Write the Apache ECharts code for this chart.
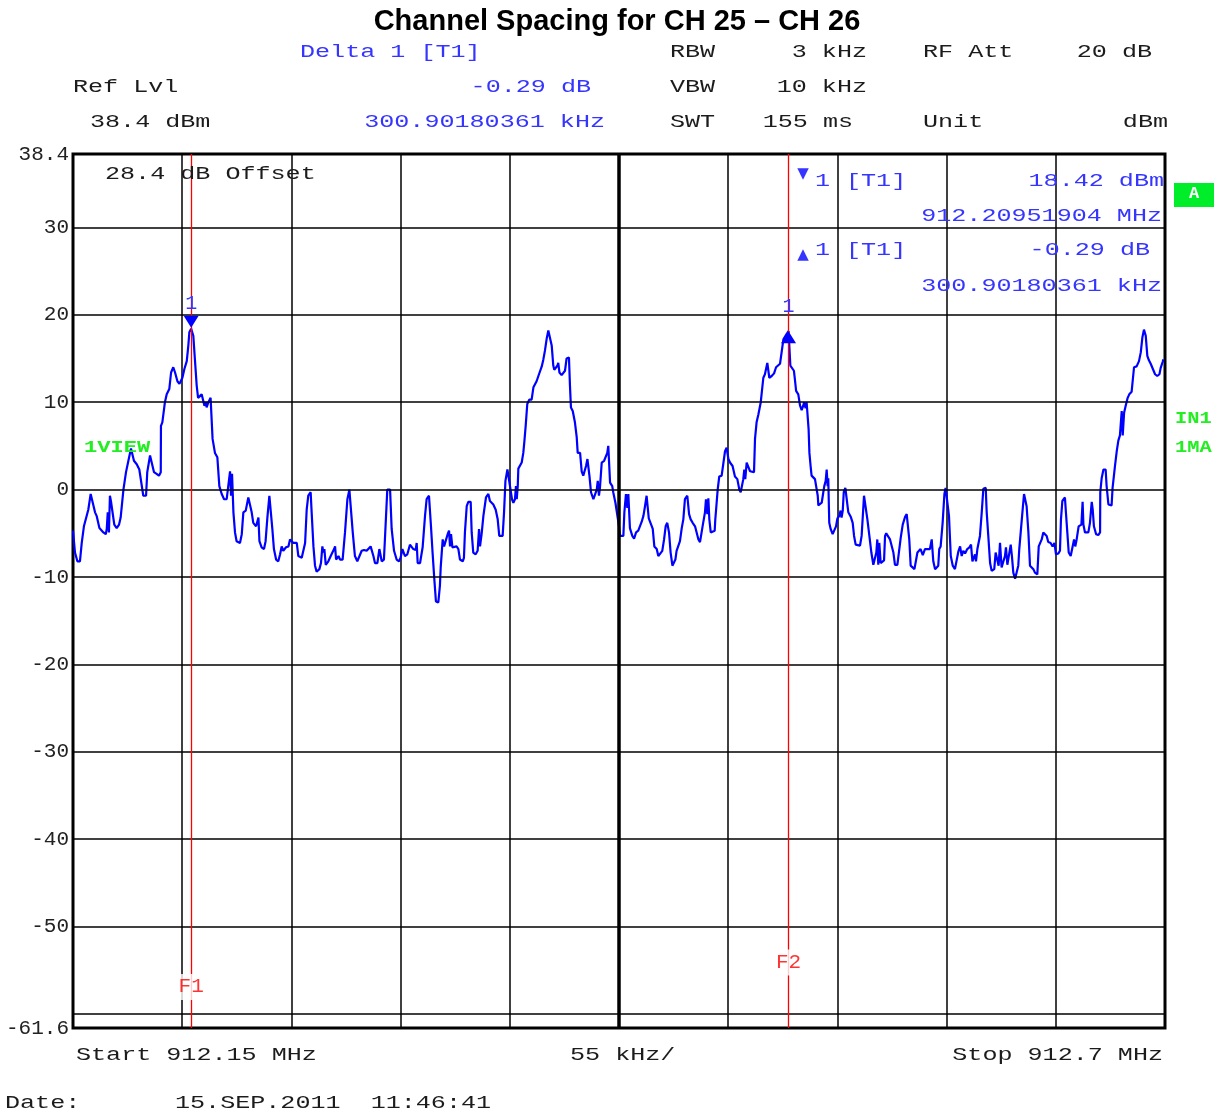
<!DOCTYPE html>
<html>
<head>
<meta charset="utf-8">
<script src="https://cdn.jsdelivr.net/npm/echarts@6/dist/echarts.min.js"></script>
<style>html,body{margin:0;padding:0;background:#fff}#c{width:1224px;height:1113px}</style>
</head>
<body>
<div id="c"></div>
<script>
// ---- data (x: kHz offset from start 912.15 MHz, y: dBm) ----
const startMHz = 912.15;
const stopMHz = 912.7;
const spanKHz = 550;
const divKHz = 55;
const yMax = 38.4;
const yMin = -61.6;
const yTickLabels = [38.4, 30, 20, 10, 0, -10, -20, -30, -40, -50, -61.6];
const gridLevels = [30, 20, 10, 0, -10, -20, -30, -40, -50, -60];
const marker1 = [59.5, 18.42];     // 912.20951904 MHz, 18.42 dBm
const delta1 = [360.4, 18.13];     // +300.90180361 kHz, -0.29 dB
const fLineKHz = [59.5, 360.4];
const fLineNames = ['F1', 'F2'];
const fLabelLevels = [-56.9, -54.1];

const trace = [
[0,-4.7],[1.0,-7.2],[2.2,-8.2],[3.5,-8.2],[4.4,-6.1],[4.9,-5.9],[5.5,-4.2],[6.5,-4.0],[7.7,-2.3],[8.9,-0.5],
[9.7,-0.5],[11.1,-2.6],[11.9,-3.0],[13.3,-4.4],[15.3,-4.9],[16.5,-5.1],[17.0,-4.5],[17.5,-2.6],[18.1,-4.9],[18.6,-0.7],
[19.1,-1.3],[19.8,-1.1],[20.8,-4.0],[22.0,-4.4],[23.2,-4.0],[24.0,-3.2],[25.4,0.0],[26.7,2.0],[27.9,3.3],[29.2,4.7],
[29.9,4.6],[30.7,3.3],[32.1,2.9],[33.4,2.3],[34.3,2.1],[35.4,-0.7],[36.3,-0.9],[36.8,-0.7],[37.4,2.0],[37.9,2.0],
[38.8,3.9],[39.6,3.7],[40.8,2.0],[42.1,1.8],[43.3,1.6],[44.2,2.0],[44.3,7.3],[45.0,7.7],[46.3,10.0],[47.2,10.9],
[48.5,11.5],[49.4,13.4],[50.5,14.0],[51.4,13.4],[52.6,12.4],[53.6,12.1],[54.4,12.3],[55.1,12.8],[55.6,12.6],[56.1,13.8],
[57.3,14.7],[58.1,16.5],[58.6,18.0],[59.5,18.42],[60.6,17.6],[61.4,14.9],[62.3,11.9],[63.0,10.5],[64.0,10.3],[64.8,10.9],
[65.6,11.1],[66.2,9.6],[67.0,10.0],[67.3,9.4],[68.2,10.0],[68.7,9.8],[69.3,10.5],[69.8,10.3],[70.3,5.8],[71.5,4.2],
[72.7,3.7],[73.7,0.4],[74.9,-0.5],[76.1,-1.1],[77.4,-1.1],[78.2,-0.9],[79.1,2.1],[79.6,-0.7],[80.1,1.8],[80.8,-2.6],
[81.6,-4.9],[82.4,-5.9],[83.3,-6.1],[84.1,-6.1],[85.0,-5.1],[85.8,-2.6],[87.0,-2.4],[88.3,-0.9],[89.2,-1.0],[90.0,-2.6],
[90.8,-3.8],[92.2,-4.2],[93.4,-3.2],[93.9,-5.9],[95.0,-6.6],[96.2,-6.8],[97.0,-5.9],[97.9,-3.2],[98.9,-0.7],[99.6,-0.7],
[100.4,-4.5],[101.2,-6.8],[102.3,-8.0],[103.4,-8.2],[104.3,-7.4],[105.1,-6.5],[105.9,-7.0],[106.8,-7.0],[107.3,-6.6],[108.5,-6.5],
[109.3,-5.7],[110.1,-5.7],[111.0,-6.1],[112.7,-6.1],[113.5,-7.6],[115.2,-7.8],[116.0,-8.0],[116.9,-6.1],[117.7,-2.3],[118.5,-0.7],
[119.7,-0.3],[120.2,-2.6],[121.1,-6.5],[121.9,-8.7],[122.7,-9.4],[124.1,-9.1],[124.9,-8.4],[125.6,-6.5],[126.1,-7.2],[126.6,-6.8],
[127.3,-8.6],[128.6,-8.2],[129.8,-7.6],[130.8,-7.6],[131.5,-6.8],[132.0,-6.5],[132.5,-8.0],[133.7,-7.6],[134.5,-8.0],[135.8,-8.0],
[137.0,-4.9],[138.2,-1.1],[139.2,0.0],[140.0,0.0],[140.9,-4.9],[142.0,-7.6],[143.2,-8.2],[144.2,-8.4],[145.4,-7.0],[146.6,-6.9],
[147.9,-7.0],[148.8,-6.8],[149.9,-6.5],[150.4,-6.3],[151.3,-7.6],[152.1,-8.4],[153.3,-8.4],[154.3,-6.8],[155.5,-8.2],[156.6,-8.0],
[157.1,-5.7],[158.3,0.0],[159.7,0.0],[160.5,-4.5],[161.7,-7.0],[163.0,-8.0],[164.2,-8.2],[165.0,-7.8],[165.9,-6.8],[166.7,-6.6],
[167.2,-7.6],[168.4,-7.4],[169.7,-6.3],[170.6,-6.5],[171.4,-6.8],[172.6,-6.9],[173.1,-6.1],[173.6,-8.4],[174.8,-8.4],[175.6,-8.3],
[176.1,-6.6],[177.3,-3.0],[178.1,-1.1],[179.3,-0.7],[180.3,-4.2],[181.1,-7.2],[182.0,-10.3],[182.8,-12.8],[184.0,-12.9],[184.8,-11.0],
[185.2,-8.9],[185.7,-8.9],[186.2,-5.7],[186.9,-6.5],[187.4,-6.5],[187.9,-6.6],[188.7,-5.1],[189.4,-4.7],[189.9,-6.5],[190.4,-5.1],
[191.1,-6.6],[191.9,-6.5],[193.2,-6.5],[194.1,-6.8],[194.9,-8.0],[196.3,-8.2],[196.9,-7.8],[197.4,-4.9],[198.3,-1.9],[199.1,-1.4],
[200.3,-1.4],[200.8,-4.9],[201.6,-7.2],[202.8,-7.4],[203.8,-7.0],[204.5,-4.5],[205.0,-6.5],[205.8,-5.1],[206.7,-3.0],[208.0,-0.9],
[209.2,-0.5],[210.0,-1.3],[211.7,-1.7],[212.9,-2.3],[213.9,-3.4],[214.7,-5.3],[215.4,-5.5],[216.4,-5.3],[217.1,-2.6],[217.8,1.0],
[218.8,2.3],[219.4,2.3],[220.1,0.4],[221.1,-1.1],[221.8,-1.5],[222.6,-1.1],[223.1,0.4],[223.5,-1.1],[224.0,0.4],[224.3,2.4],
[225.1,2.5],[226.0,3.1],[226.8,4.2],[227.3,5.4],[228.0,7.3],[228.8,9.8],[229.8,10.3],[231.0,10.3],[231.9,11.7],[232.7,11.9],
[233.5,12.4],[234.7,13.2],[236.1,14.1],[236.9,14.9],[237.7,15.9],[238.6,17.3],[239.4,18.2],[240.2,18.3],[241.1,16.5],[241.9,14.2],
[242.4,13.7],[243.3,13.6],[244.0,14.2],[244.4,14.5],[245.0,13.4],[246.1,13.1],[247.0,13.2],[247.8,13.6],[248.6,15.0],[249.8,15.1],
[250.3,11.9],[250.8,9.4],[251.7,9.0],[252.8,7.7],[253.7,6.0],[254.2,4.2],[255.4,4.2],[256.2,2.1],[257.0,1.6],[257.9,1.4],
[258.4,2.7],[259.1,3.5],[259.6,3.5],[260.1,1.6],[260.9,-0.3],[262.1,-1.1],[262.9,-1.2],[263.8,0.0],[264.3,1.0],[264.9,-0.7],
[265.4,0.2],[266.3,3.1],[267.5,3.3],[268.5,3.1],[269.1,4.2],[269.6,5.0],[270.5,0.8],[271.6,0.4],[272.1,-0.3],[273.2,-1.5],
[274.2,-1.7],[275.0,-4.2],[275.5,-5.3],[277.2,-5.3],[277.7,-2.6],[278.5,-0.5],[279.2,-2.1],[279.7,-0.5],[280.5,-4.4],[281.7,-5.3],
[282.6,-5.6],[283.6,-4.9],[284.7,-4.7],[285.6,-4.5],[286.4,-3.7],[287.3,-3.0],[288.1,-1.9],[288.9,-0.7],[289.4,-0.7],[290.0,-3.3],
[291.0,-3.4],[292.0,-4.5],[292.8,-6.5],[294.0,-6.8],[294.8,-7.6],[295.7,-7.8],[296.8,-7.0],[297.7,-5.7],[298.5,-4.2],[299.3,-3.8],
[300.2,-4.9],[301.0,-7.2],[301.9,-8.7],[302.9,-8.9],[303.4,-8.0],[304.0,-7.0],[304.9,-7.2],[305.7,-5.9],[306.6,-4.4],[307.4,-3.4],
[308.2,-1.1],[309.4,-0.7],[310.3,-2.8],[311.1,-3.4],[312.1,-3.8],[313.3,-4.2],[314.1,-4.4],[315.0,-5.7],[315.8,-6.0],[316.6,-5.9],
[317.1,-4.2],[317.8,-4.2],[318.3,-2.6],[318.8,-1.1],[319.5,-2.8],[320.0,-1.0],[320.5,-3.4],[321.2,-4.9],[322.2,-5.0],[323.2,-4.7],
[323.5,-3.4],[323.9,-2.3],[324.7,0.0],[325.5,1.5],[326.7,1.6],[327.5,2.9],[328.4,4.4],[329.2,4.8],[330.1,3.5],[330.9,3.1],
[332.2,2.7],[333.4,1.5],[334.6,1.2],[335.6,0.0],[336.3,-0.3],[337.1,-0.4],[337.6,1.2],[338.1,2.3],[338.6,1.2],[339.3,3.1],
[340.1,3.3],[341.0,2.1],[341.8,1.9],[343.0,2.0],[343.5,5.8],[344.3,7.7],[345.2,8.6],[346.4,10.0],[346.9,11.1],[347.7,12.8],
[348.5,13.2],[349.7,14.5],[350.7,12.8],[351.9,13.0],[353.1,13.3],[354.1,14.0],[354.7,13.8],[356.1,14.4],[356.9,15.7],[357.8,17.2],
[359.4,17.8],[360.4,18.13],[361.3,14.2],[362.0,14.0],[363.1,13.6],[363.6,12.6],[364.2,11.3],[365.3,10.9],[366.2,9.6],[367.0,9.1],
[367.8,9.6],[368.2,10.0],[369.0,9.3],[369.5,10.0],[370.0,10.0],[370.5,6.9],[370.9,4.2],[371.5,2.7],[372.0,1.6],[372.9,1.4],
[373.7,1.2],[374.6,1.0],[375.1,-0.7],[375.4,-1.8],[376.2,-2.0],[377.1,-1.5],[377.9,-0.3],[378.4,0.4],[379.1,1.0],[379.6,2.3],
[380.1,0.4],[380.4,1.3],[380.9,-3.8],[381.6,-4.5],[382.6,-5.1],[383.3,-5.1],[384.3,-4.2],[385.0,-3.3],[386.0,-3.0],[386.6,-2.4],
[387.1,-3.2],[387.7,-2.4],[388.2,-0.3],[389.0,0.2],[389.7,0.2],[390.5,-2.6],[391.7,-3.1],[392.7,-3.8],[393.4,-5.3],[394.2,-6.3],
[395.2,-6.4],[396.4,-6.4],[397.2,-5.3],[397.7,-3.4],[398.4,-0.7],[399.2,-0.5],[400.1,-3.4],[401.1,-5.3],[402.1,-7.2],[403.1,-8.6],
[404.0,-8.6],[404.6,-7.2],[405.1,-5.7],[405.6,-8.6],[406.1,-6.1],[406.8,-8.4],[407.8,-8.4],[408.5,-8.1],[409.0,-5.3],[409.6,-5.0],
[410.7,-5.4],[411.5,-5.7],[412.5,-5.9],[413.2,-7.2],[414.0,-8.6],[415.2,-8.6],[416.2,-8.4],[416.9,-5.5],[417.9,-4.0],[419.1,-3.1],
[419.9,-2.8],[420.7,-2.8],[421.2,-5.7],[421.9,-8.7],[422.7,-8.8],[423.8,-9.1],[424.6,-9.1],[425.3,-7.2],[426.3,-7.0],[426.9,-6.8],
[428.0,-7.5],[429.1,-6.8],[430.3,-6.8],[431.6,-6.8],[432.5,-5.7],[433.3,-8.2],[434.2,-9.1],[435.0,-9.1],[435.8,-8.7],[436.3,-6.8],
[437.0,-6.5],[438.0,-3.8],[438.9,-0.5],[439.5,0.2],[440.5,0.1],[441.2,-3.0],[442.1,-7.6],[443.1,-8.7],[444.2,-9.1],[445.1,-9.1],
[445.9,-7.1],[446.8,-6.5],[447.6,-7.6],[448.4,-7.0],[449.3,-7.3],[450.4,-6.8],[451.5,-6.6],[452.3,-6.3],[453.0,-8.2],[453.6,-8.4],
[454.3,-7.4],[454.8,-8.2],[455.5,-6.8],[456.8,-5.3],[457.7,-2.6],[458.5,0.1],[459.7,0.2],[460.2,-2.6],[461.0,-5.3],[461.9,-8.4],
[462.7,-9.3],[463.5,-9.4],[464.0,-9.1],[464.7,-7.2],[465.2,-7.4],[465.7,-7.4],[466.2,-8.7],[466.9,-6.1],[467.7,-8.9],[468.6,-8.7],
[469.4,-7.6],[469.9,-6.6],[470.6,-8.6],[471.6,-8.7],[472.3,-6.3],[472.9,-7.6],[473.6,-9.5],[474.5,-10.2],[475.3,-10.1],[476.1,-8.7],
[476.6,-6.8],[477.5,-6.6],[478.3,-2.3],[479.0,-0.5],[479.8,-0.4],[480.3,-1.9],[481.2,-4.9],[482.0,-8.7],[482.8,-8.7],[483.7,-9.1],
[484.5,-9.5],[485.7,-9.7],[486.4,-6.5],[487.0,-6.3],[487.9,-5.7],[488.7,-4.9],[489.6,-4.7],[490.4,-5.3],[491.2,-6.0],[492.4,-6.1],
[493.4,-6.5],[494.3,-6.1],[495.1,-7.4],[496.3,-7.3],[497.1,-7.0],[497.6,-3.4],[498.3,-1.3],[499.6,-0.9],[500.1,-2.6],[500.8,-4.9],
[501.5,-7.2],[502.5,-7.6],[503.3,-7.6],[504.2,-5.7],[504.8,-6.5],[505.5,-5.7],[506.5,-4.2],[507.2,-4.1],[507.9,-4.0],[508.5,-1.4],
[508.9,-4.0],[509.7,-4.9],[510.5,-5.1],[511.4,-4.9],[512.2,-3.8],[513.1,-1.4],[513.6,-2.3],[514.2,-4.2],[515.3,-5.1],[516.4,-5.2],
[517.3,-4.9],[517.4,-0.3],[518.1,1.3],[519.0,2.3],[520.1,2.3],[520.6,0.4],[521.5,-1.7],[522.3,-1.9],[523.1,-1.8],[523.6,0.2],
[524.3,0.4],[524.8,2.7],[525.7,4.4],[526.5,5.6],[527.3,6.2],[527.8,6.0],[528.2,9.0],[528.7,6.2],[529.4,8.8],[530.2,9.6],
[531.2,10.5],[532.0,10.9],[533.2,11.2],[534.4,14.0],[535.7,14.1],[536.9,14.7],[537.8,15.7],[538.6,17.4],[539.4,18.3],[540.3,17.6],
[541.1,15.3],[541.9,14.8],[542.8,14.4],[543.8,14.2],[545.0,13.2],[546.1,13.0],[547.2,13.2],[547.8,13.9],[548.8,14.6],[549.2,14.9]
];

// ---- text content ----
const titleText = 'Channel Spacing for CH 25 \u2013 CH 26';
const BLUE_T = '#3535ff';
const BLK = '#1c1c1c';
const GREEN = '#22ee22';
const MONO = '"Liberation Mono", "Courier New", monospace';

function T(x, y, text, o) {
  o = o || {};
  const align = o.a || 'left';
  return {
    type: 'text', x: x, y: y, scaleX: (o.sx !== undefined ? o.sx : 1.32), silent: true, z: 20,
    style: {
      text: text, fill: o.c || BLK,
      font: o.font || ('19px ' + MONO),
      textAlign: align, textVerticalAlign: 'middle',
      align: align, verticalAlign: 'middle'
    }
  };
}

const graphics = [
  T(617, 22, titleText, {a: 'center', sx: 1, font: 'bold 29px "Liberation Sans", Arial, sans-serif', c: '#000'}),
  T(300, 52, 'Delta 1 [T1]', {c: BLUE_T}),
  T(670, 52, 'RBW'),
  T(867, 52, '3 kHz', {a: 'right'}),
  T(923, 52, 'RF Att'),
  T(1152, 52, '20 dB', {a: 'right'}),
  T(73, 87, 'Ref Lvl'),
  T(591, 87, '-0.29 dB', {a: 'right', c: BLUE_T}),
  T(670, 87, 'VBW'),
  T(867, 87, '10 kHz', {a: 'right'}),
  T(90, 122, '38.4 dBm'),
  T(605, 122, '300.90180361 kHz', {a: 'right', c: BLUE_T}),
  T(670, 122, 'SWT'),
  T(853, 122, '155 ms', {a: 'right'}),
  T(923, 122, 'Unit'),
  T(1168, 122, 'dBm', {a: 'right'}),
  T(105, 174, '28.4 dB Offset'),
  // marker table
  T(803, 174, '\u25BC', {a: 'center', sx: 1, c: BLUE_T, font: '15px "DejaVu Sans"'}),
  T(815, 181, '1', {c: BLUE_T}),
  T(846, 181, '[T1]', {c: BLUE_T}),
  T(1164, 181, '18.42 dBm', {a: 'right', c: BLUE_T}),
  T(1162, 216, '912.20951904 MHz', {a: 'right', c: BLUE_T}),
  T(803, 255, '\u25B2', {a: 'center', sx: 1, c: BLUE_T, font: '15px "DejaVu Sans"'}),
  T(815, 250, '1', {c: BLUE_T}),
  T(846, 250, '[T1]', {c: BLUE_T}),
  T(1150, 250, '-0.29 dB', {a: 'right', c: BLUE_T}),
  T(1162, 286, '300.90180361 kHz', {a: 'right', c: BLUE_T}),
  // green labels
  T(84, 448, '1VIEW', {c: GREEN, sx: 1.3, font: 'bold 17px ' + MONO}),
  T(1175, 419, 'IN1', {c: GREEN, sx: 1.2, font: 'bold 17px ' + MONO}),
  T(1175, 448, '1MA', {c: GREEN, sx: 1.2, font: 'bold 17px ' + MONO}),
  {type: 'rect', shape: {x: 1174, y: 183, width: 40, height: 24}, style: {fill: '#00ee2a'}, silent: true, z: 20},
  T(1194, 194, 'A', {a: 'center', sx: 1, c: '#ffffff', font: 'bold 17px ' + MONO}),
  // bottom
  T(76, 1055, 'Start ' + startMHz + ' MHz'),
  T(570, 1055, divKHz + ' kHz/'),
  T(1163, 1055, 'Stop ' + stopMHz + ' MHz', {a: 'right'}),
  T(5, 1103, 'Date:'),
  T(175, 1103, '15.SEP.2011  11:46:41')
];

const chart = echarts.init(document.getElementById('c'), null, {renderer: 'canvas'});
chart.setOption({
  animation: false,
  backgroundColor: '#ffffff',
  grid: {left: 73, top: 154, width: 1092, height: 874, show: true, borderColor: '#000', borderWidth: 3, backgroundColor: 'transparent'},
  xAxis: {
    type: 'value', min: 0, max: spanKHz, interval: divKHz,
    axisLine: {show: false}, axisTick: {show: false}, axisLabel: {show: false},
    splitLine: {show: true, lineStyle: {color: '#000', width: 1.5}}
  },
  yAxis: {
    type: 'value', min: yMin, max: yMax,
    axisLine: {show: false}, axisTick: {show: false},
    splitLine: {show: false},
    axisLabel: {
      show: true, customValues: yTickLabels, margin: 4,
      color: '#222', fontFamily: 'Liberation Mono', fontSize: 21,
      formatter: function (v) { return (Math.abs(v - Math.round(v)) > 1e-6) ? v.toFixed(1) : String(Math.round(v)); }
    }
  },
  graphic: graphics,
  series: [
    {
      name: 'gridlines', type: 'line', data: [], z: 1, silent: true,
      markLine: {
        silent: true, symbol: ['none', 'none'], label: {show: false}, animation: false,
        lineStyle: {color: '#000', width: 1.5, type: 'solid'},
        data: gridLevels.map(v => ({yAxis: v})).concat([{xAxis: spanKHz / 2, lineStyle: {width: 3.5, color: '#000', type: 'solid'}}])
      }
    },
    {
      name: 'trace', type: 'line', data: trace, z: 3, showSymbol: false, silent: true, clip: true,
      lineStyle: {color: '#0000ff', width: 2.2},
      markPoint: {
        silent: true, animation: false,
        data: [
          {coord: marker1, symbol: 'triangle', symbolRotate: 180, symbolSize: [15, 12], symbolOffset: [0, -7],
           itemStyle: {color: '#0000ff'},
           label: {show: true, formatter: '1', position: 'top', distance: 2, color: BLUE_T, fontFamily: 'Liberation Mono', fontSize: 20}},
          {coord: delta1, symbol: 'triangle', symbolSize: [15, 12], symbolOffset: [0, 6],
           itemStyle: {color: '#0000ff'},
           label: {show: true, formatter: '1', position: 'top', distance: 14, color: BLUE_T, fontFamily: 'Liberation Mono', fontSize: 20}}
        ]
      }
    },
    {
      name: 'flines', type: 'line', data: [], z: 4, silent: true,
      markLine: {
        silent: true, symbol: ['none', 'none'], label: {show: false}, animation: false,
        lineStyle: {color: '#ff0000', width: 1.3, type: 'solid'},
        data: fLineKHz.map(v => ({xAxis: v}))
      }
    },
    {
      name: 'flabels', type: 'scatter', z: 5, silent: true,
      data: fLineKHz.map((v, i) => ({value: [v, fLabelLevels[i]], name: fLineNames[i]})),
      symbol: 'rect', symbolSize: [32, 26], itemStyle: {color: '#ffffff'},
      label: {show: true, position: 'inside', formatter: p => p.name, color: '#ff0000', fontFamily: 'Liberation Mono', fontSize: 21}
    }
  ]
});
</script>
</body>
</html>
